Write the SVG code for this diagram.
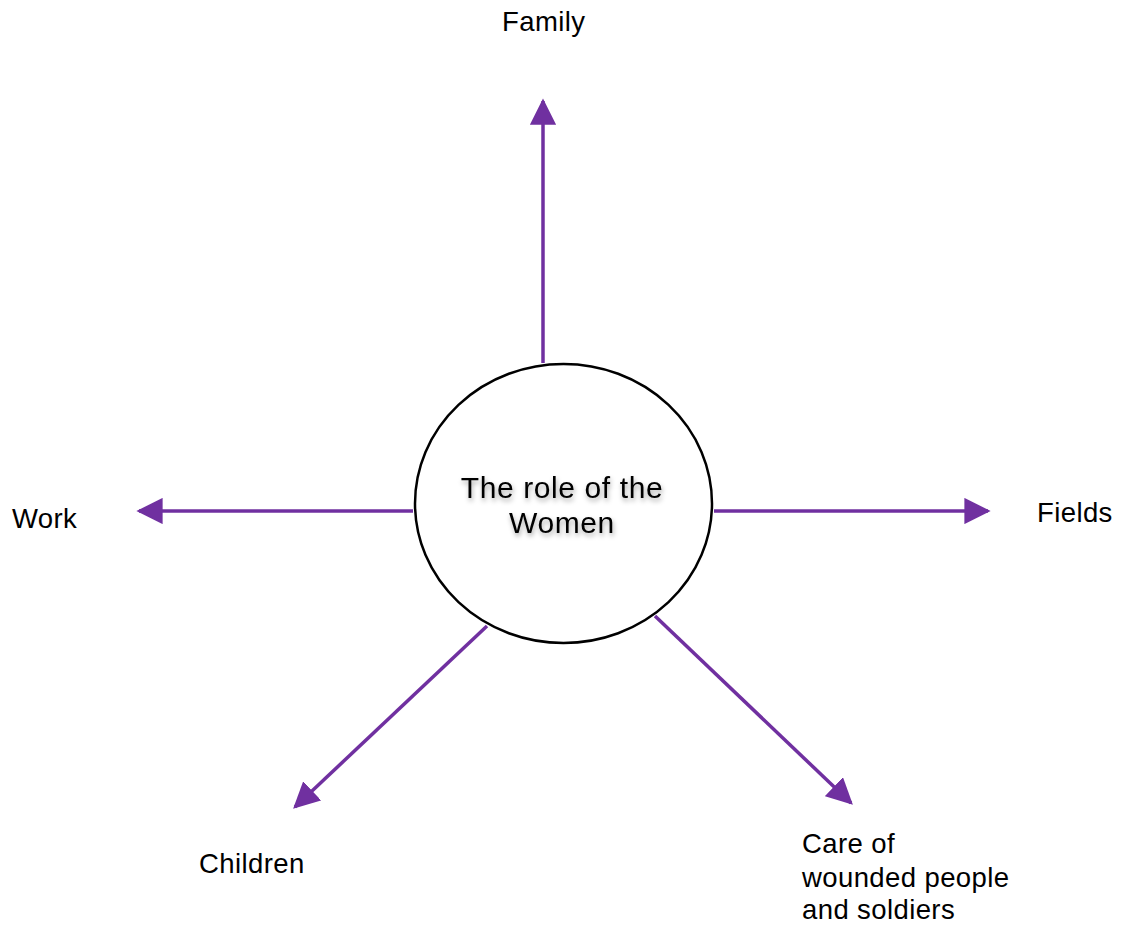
<svg xmlns="http://www.w3.org/2000/svg" width="1123" height="931" viewBox="0 0 1123 931">
<style>
.lbl{font-family:"Liberation Sans",Arial,sans-serif;font-size:27.5px;letter-spacing:0.4px;fill:#000}
.ctr{font-family:"Liberation Sans",Arial,sans-serif;font-size:30px;letter-spacing:0.6px;fill:#000}
.conn{stroke:#7030A0;stroke-width:3.5;fill:none;marker-end:url(#ah)}
</style>
<defs>
<marker id="ah" viewBox="0 0 10 10" refX="9" refY="5" markerWidth="7.5" markerHeight="7.5" markerUnits="strokeWidth" orient="auto">
<path d="M0,0 L10,5 L0,10 z" fill="#7030A0"/>
</marker>
<filter id="sh" x="-20%" y="-40%" width="140%" height="180%">
<feDropShadow dx="1" dy="3" stdDeviation="2.5" flood-color="#000" flood-opacity="0.35"/>
</filter>
</defs>
<rect width="1123" height="931" fill="#fff"/>
<g id="connectors">
<line class="conn" x1="543" y1="363" x2="543" y2="101"/>
<line class="conn" x1="413" y1="511" x2="139" y2="511"/>
<line class="conn" x1="714" y1="511" x2="988" y2="511"/>
<line class="conn" x1="487" y1="626" x2="295" y2="807"/>
<line class="conn" x1="655" y1="616" x2="851" y2="803"/>
</g>
<g id="center">
<ellipse cx="563.5" cy="503.5" rx="148.5" ry="139.5" fill="#fff" stroke="#000" stroke-width="2.5"/>
<text class="ctr" text-anchor="middle" filter="url(#sh)"><tspan x="562" y="498">The role of the</tspan><tspan x="562" y="533">Women</tspan></text>
</g>
<g id="family"><text class="lbl" x="502" y="31">Family</text></g>
<g id="work"><text class="lbl" x="12" y="528">Work</text></g>
<g id="fields"><text class="lbl" x="1037" y="522">Fields</text></g>
<g id="children"><text class="lbl" x="199" y="873">Children</text></g>
<g id="care"><text class="lbl"><tspan x="802" y="853">Care of</tspan><tspan x="802" y="887">wounded people</tspan><tspan x="802" y="919">and soldiers</tspan></text></g>
</svg>
